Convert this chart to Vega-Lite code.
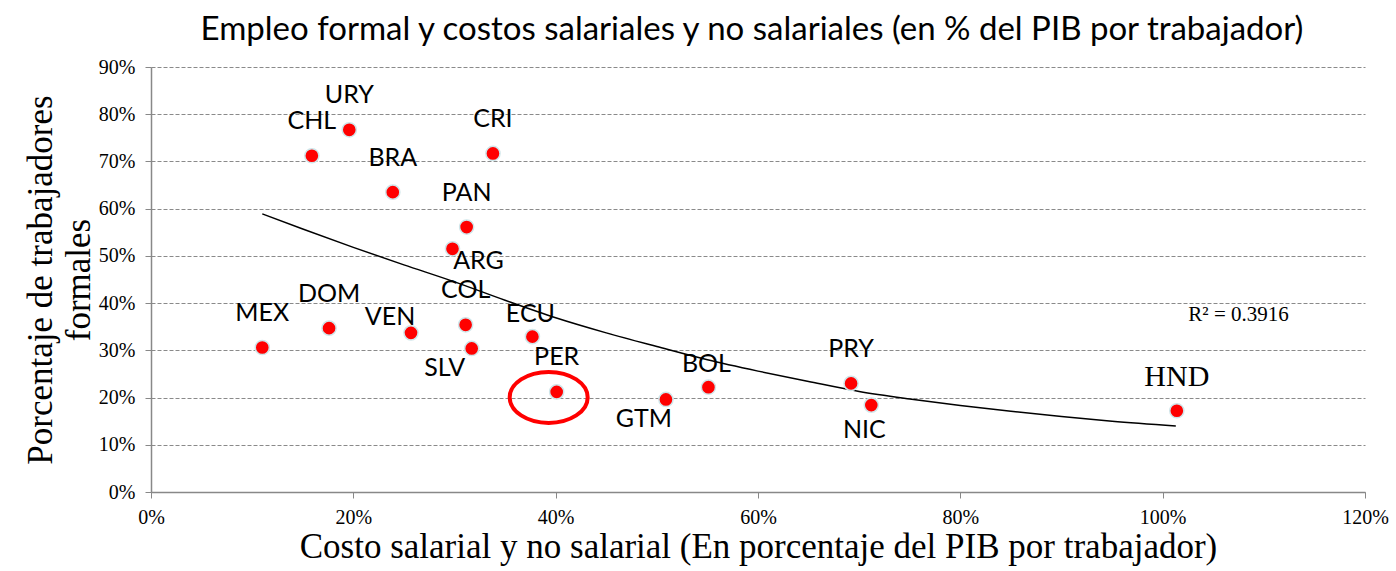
{
  "$schema": "https://vega.github.io/schema/vega-lite/v6.json",
  "width": 1214,
  "height": 425,
  "autosize": {"type": "none"},
  "padding": {"left": 151, "top": 67, "right": 31, "bottom": 79},
  "background": "white",
  "config": {"view": {"stroke": null}},
  "title": {
    "text": "Empleo formal y costos salariales y no salariales (en % del PIB por trabajador)",
    "font": "Lato",
    "fontSize": 33,
    "fontWeight": "normal",
    "color": "black",
    "anchor": "middle",
    "dx": -6,
    "offset": 10
  },
  "datasets": {
    "paises": [
      {"pais": "MEX", "costo": 0.110, "formal": 0.306},
      {"pais": "CHL", "costo": 0.159, "formal": 0.712},
      {"pais": "URY", "costo": 0.196, "formal": 0.767},
      {"pais": "BRA", "costo": 0.239, "formal": 0.635},
      {"pais": "CRI", "costo": 0.338, "formal": 0.717},
      {"pais": "PAN", "costo": 0.312, "formal": 0.561},
      {"pais": "ARG", "costo": 0.298, "formal": 0.515},
      {"pais": "DOM", "costo": 0.176, "formal": 0.347},
      {"pais": "VEN", "costo": 0.257, "formal": 0.337},
      {"pais": "COL", "costo": 0.311, "formal": 0.354},
      {"pais": "SLV", "costo": 0.317, "formal": 0.304},
      {"pais": "ECU", "costo": 0.377, "formal": 0.329},
      {"pais": "PER", "costo": 0.401, "formal": 0.212},
      {"pais": "GTM", "costo": 0.509, "formal": 0.196},
      {"pais": "BOL", "costo": 0.551, "formal": 0.222},
      {"pais": "PRY", "costo": 0.692, "formal": 0.230},
      {"pais": "NIC", "costo": 0.712, "formal": 0.184},
      {"pais": "HND", "costo": 1.014, "formal": 0.172}
    ],
    "tendencia": [
      {"costo": 0.110, "formal": 0.589},
      {"costo": 0.15, "formal": 0.557},
      {"costo": 0.20, "formal": 0.518},
      {"costo": 0.25, "formal": 0.481},
      {"costo": 0.30, "formal": 0.445},
      {"costo": 0.35, "formal": 0.406},
      {"costo": 0.40, "formal": 0.369},
      {"costo": 0.45, "formal": 0.337},
      {"costo": 0.50, "formal": 0.308},
      {"costo": 0.55, "formal": 0.280},
      {"costo": 0.60, "formal": 0.256},
      {"costo": 0.65, "formal": 0.234},
      {"costo": 0.70, "formal": 0.213},
      {"costo": 0.75, "formal": 0.197},
      {"costo": 0.80, "formal": 0.183},
      {"costo": 0.85, "formal": 0.171},
      {"costo": 0.90, "formal": 0.160},
      {"costo": 0.95, "formal": 0.150},
      {"costo": 1.013, "formal": 0.140}
    ],
    "r2": [
      {"costo": 1.075, "formal": 0.362, "texto": "R² = 0.3916"}
    ]
  },
  "encoding": {
    "x": {
      "field": "costo",
      "type": "quantitative",
      "scale": {"domain": [0, 1.2], "nice": false},
      "axis": {
        "title": "Costo salarial y no salarial (En porcentaje del  PIB por trabajador)",
        "titleFont": "Liberation Serif",
        "titleFontSize": 35,
        "titleFontWeight": "normal",
        "titleColor": "black",
        "titlePadding": 2,
        "values": [0, 0.2, 0.4, 0.6, 0.8, 1.0, 1.2],
        "format": ".0%",
        "labelFont": "Liberation Serif",
        "labelFontSize": 20,
        "labelColor": "black",
        "labelPadding": 9,
        "labelFlush": false,
        "labelOverlap": false,
        "tickSize": 6,
        "tickColor": "#888888",
        "domainColor": "#888888",
        "domainWidth": 1.5,
        "grid": false
      }
    },
    "y": {
      "field": "formal",
      "type": "quantitative",
      "scale": {"domain": [0, 0.9], "nice": false},
      "axis": {
        "title": ["Porcentaje de  trabajadores", "formales"],
        "titleFont": "Liberation Serif",
        "titleFontSize": 35,
        "titleFontWeight": "normal",
        "titleColor": "black",
        "titleLineHeight": 38,
        "titlePadding": 2,
        "values": [0, 0.1, 0.2, 0.3, 0.4, 0.5, 0.6, 0.7, 0.8, 0.9],
        "format": ".0%",
        "labelFont": "Liberation Serif",
        "labelFontSize": 20,
        "labelColor": "black",
        "labelPadding": 10,
        "labelFlush": false,
        "labelOverlap": false,
        "tickSize": 6,
        "tickColor": "#888888",
        "domainColor": "#888888",
        "domainWidth": 1.5,
        "grid": true,
        "gridColor": "#8a8a8a",
        "gridDash": [4, 2],
        "gridWidth": 1
      }
    }
  },
  "layer": [
    {
      "data": {"name": "tendencia"},
      "mark": {"type": "line", "color": "black", "strokeWidth": 1.5, "interpolate": "monotone"}
    },
    {
      "data": {"name": "paises"},
      "mark": {"type": "point", "shape": "circle", "filled": true, "size": 200, "fill": "#ff0000", "stroke": "#cfe6ea", "strokeWidth": 1.5, "opacity": 1}
    },
    {
      "data": {"name": "paises"},
      "transform": [{"filter": {"field": "pais", "equal": "PER"}}],
      "mark": {"type": "point", "shape": "M-1,0A1,0.654,0,1,0,1,0A1,0.654,0,1,0,-1,0Z", "size": 6084, "filled": false, "fill": null, "stroke": "#ff0000", "strokeWidth": 4, "opacity": 1, "xOffset": -8, "yOffset": 5.5}
    },
    {
      "data": {"name": "paises"},
      "transform": [{"filter": {"field": "pais", "oneOf": ["MEX", "CHL", "URY", "BRA", "CRI", "PAN", "DOM", "COL", "PER", "PRY"]}}],
      "mark": {"type": "text", "font": "Lato", "fontSize": 25, "color": "black", "baseline": "middle", "align": "center", "dy": -34.5},
      "encoding": {"text": {"field": "pais"}}
    },
    {
      "data": {"name": "paises"},
      "transform": [{"filter": {"field": "pais", "oneOf": ["ECU", "BOL"]}}],
      "mark": {"type": "text", "font": "Lato", "fontSize": 25, "color": "black", "baseline": "middle", "align": "center", "dx": -2, "dy": -23},
      "encoding": {"text": {"field": "pais"}}
    },
    {
      "data": {"name": "paises"},
      "transform": [{"filter": {"field": "pais", "equal": "ARG"}}],
      "mark": {"type": "text", "font": "Lato", "fontSize": 25, "color": "black", "baseline": "middle", "align": "center", "dx": 26, "dy": 12},
      "encoding": {"text": {"field": "pais"}}
    },
    {
      "data": {"name": "paises"},
      "transform": [{"filter": {"field": "pais", "equal": "VEN"}}],
      "mark": {"type": "text", "font": "Lato", "fontSize": 25, "color": "black", "baseline": "middle", "align": "center", "dx": -21, "dy": -15.5},
      "encoding": {"text": {"field": "pais"}}
    },
    {
      "data": {"name": "paises"},
      "transform": [{"filter": {"field": "pais", "equal": "SLV"}}],
      "mark": {"type": "text", "font": "Lato", "fontSize": 25, "color": "black", "baseline": "middle", "align": "center", "dx": -27, "dy": 20},
      "encoding": {"text": {"field": "pais"}}
    },
    {
      "data": {"name": "paises"},
      "transform": [{"filter": {"field": "pais", "equal": "GTM"}}],
      "mark": {"type": "text", "font": "Lato", "fontSize": 25, "color": "black", "baseline": "middle", "align": "center", "dx": -22, "dy": 20},
      "encoding": {"text": {"field": "pais"}}
    },
    {
      "data": {"name": "paises"},
      "transform": [{"filter": {"field": "pais", "equal": "NIC"}}],
      "mark": {"type": "text", "font": "Lato", "fontSize": 25, "color": "black", "baseline": "middle", "align": "center", "dx": -7, "dy": 24.5},
      "encoding": {"text": {"field": "pais"}}
    },
    {
      "data": {"name": "paises"},
      "transform": [{"filter": {"field": "pais", "equal": "HND"}}],
      "mark": {"type": "text", "font": "Liberation Serif", "fontSize": 30, "color": "black", "baseline": "middle", "align": "center", "dy": -34},
      "encoding": {"text": {"field": "pais"}}
    },
    {
      "data": {"name": "r2"},
      "mark": {"type": "text", "font": "Liberation Serif", "fontSize": 21, "color": "black", "baseline": "alphabetic", "align": "center"},
      "encoding": {"text": {"field": "texto"}}
    }
  ]
}
